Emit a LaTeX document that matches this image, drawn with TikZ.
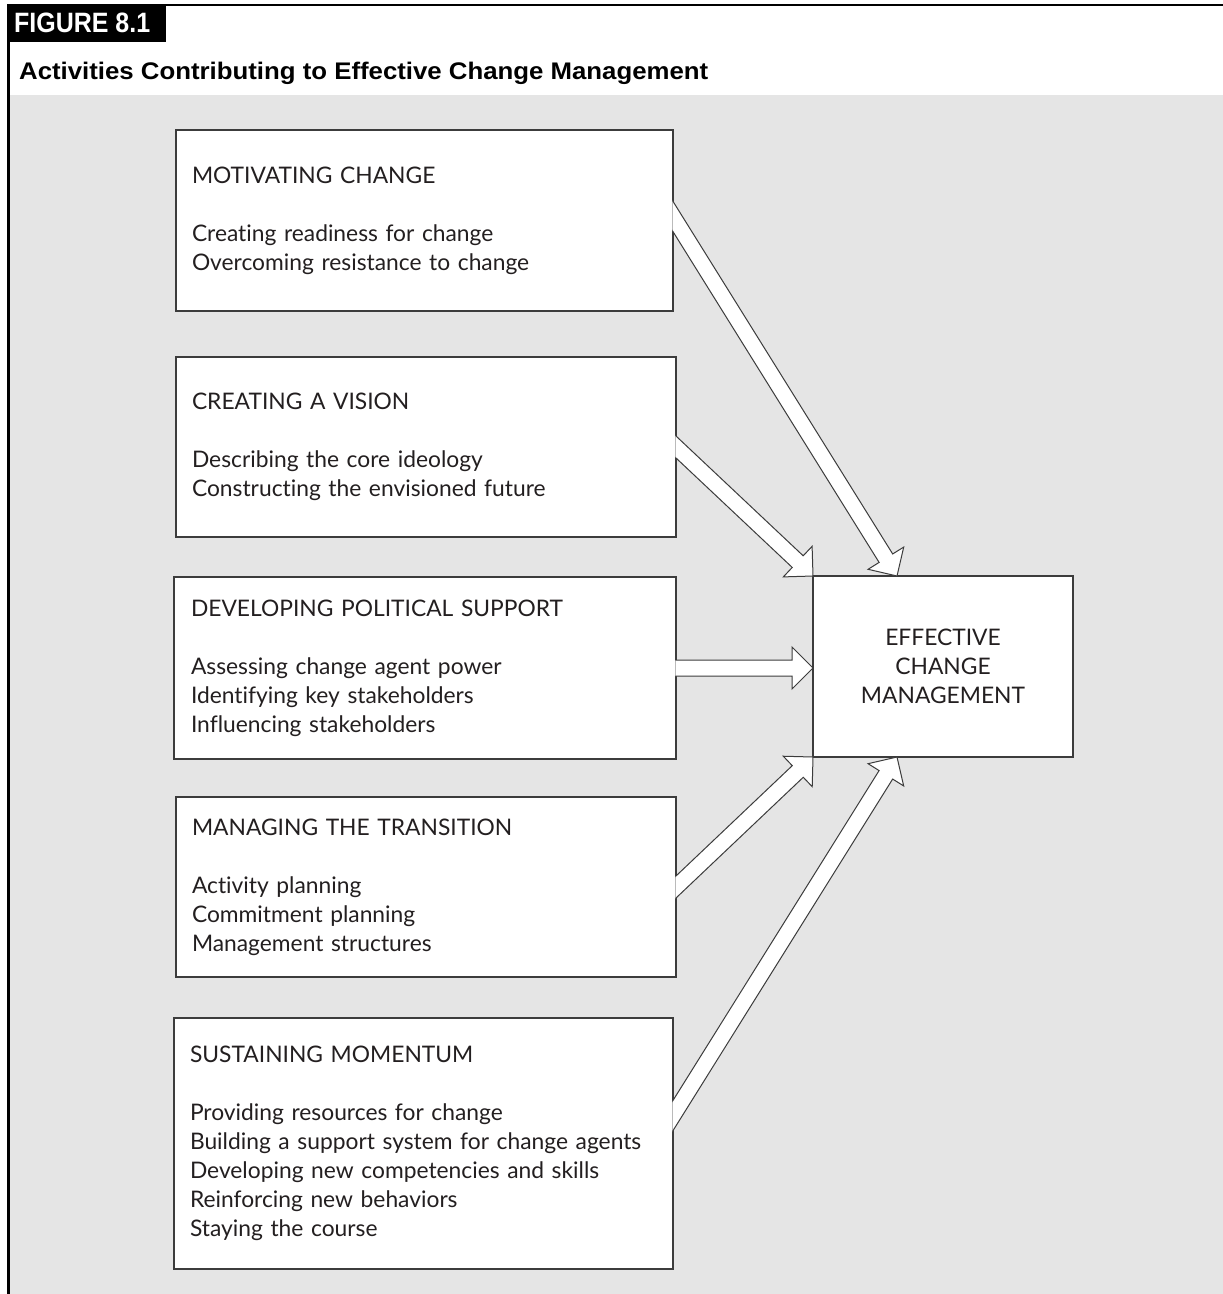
\documentclass[tikz,border=0pt]{standalone}
\usepackage{fontspec}
\usepackage{graphicx}
\setmainfont{Lato}[Ligatures=NoCommon]
\newfontfamily\headfont{Liberation Sans}
\usetikzlibrary{calc}

\definecolor{panel}{HTML}{E5E5E5}
\definecolor{ink}{HTML}{231F20}
\definecolor{edge}{HTML}{3C3C3C}

\tikzset{
  actbox/.style={draw=edge, line width=1.3pt, fill=white, outer sep=0pt,
    inner xsep=16pt, inner ysep=0pt, align=left, text=ink,
    font=\fontsize{22.8}{29}\selectfont},
  arrowline/.style={draw=edge, line width=1pt, line join=miter},
}

% hollow block arrow from a point on a box edge (#1) to its tip (#2)
\newcommand\blockarrow[2]{%
  \begin{scope}
    \clip (#1) ++(-0.6,-2000) rectangle (1223,2000);
    \coordinate (ab) at ($(#1)!-30pt!(#2)$);
    \coordinate (hb) at ($(#2)!21pt!(#1)$);
    \coordinate (s1) at ($(ab)!8pt!90:(#2)$);
    \coordinate (s2) at ($(hb)!8pt!90:(#2)$);
    \coordinate (w1) at ($(hb)!21pt!90:(#2)$);
    \coordinate (w2) at ($(hb)!21pt!-90:(#2)$);
    \coordinate (s3) at ($(hb)!8pt!-90:(#2)$);
    \coordinate (s4) at ($(ab)!8pt!-90:(#2)$);
    \fill[white] (s1) -- (s2) -- (w1) -- (#2) -- (w2) -- (s3) -- (s4) -- cycle;
    \draw[arrowline] (s1) -- (s2) -- (w1) -- (#2) -- (w2) -- (s3) -- (s4);
  \end{scope}}

\begin{document}
\begin{tikzpicture}[x=1pt,y=-1pt]
\useasboundingbox (0,0) rectangle (1223,1294);

% page, grey panel and black frame
\fill[white] (0,0) rectangle (1223,1294);
\fill[panel] (9.5,95) rectangle (1223,1294);
\fill[black] (7,4) rectangle (1223,6.3);
\fill[black] (7,4) rectangle (9.6,1294);
\fill[black] (7,4) rectangle (166,42);

\node[anchor=base west, text=white, inner sep=0pt] (fig) at (14,32)
  {\headfont\bfseries\fontsize{28}{28}\selectfont\resizebox{136pt}{\height}{FIGURE 8.1}};
\node[anchor=base west, text=black, inner sep=0pt] (title) at (19,79)
  {\headfont\bfseries\fontsize{24}{24}\selectfont\resizebox{689pt}{\height}{Activities Contributing to Effective Change Management}};

% activity boxes
\node[actbox, minimum width=497pt, minimum height=181pt, text width=465pt] (m1) at (424.5,220.5)
  {MOTIVATING CHANGE\\[29pt]
   Creating readiness for change\\
   Overcoming resistance to change};
\node[actbox, minimum width=500pt, minimum height=180pt, text width=468pt] (m2) at (426,447)
  {CREATING A VISION\\[29pt]
   Describing the core ideology\\
   Constructing the envisioned future};
\node[actbox, minimum width=502pt, minimum height=182pt, text width=468pt] (m3) at (425,668)
  {DEVELOPING POLITICAL SUPPORT\\[29pt]
   Assessing change agent power\\
   Identifying key stakeholders\\
   Influencing stakeholders};
\node[actbox, minimum width=500pt, minimum height=180pt, text width=468pt] (m4) at (426,887)
  {MANAGING THE TRANSITION\\[29pt]
   Activity planning\\
   Commitment planning\\
   Management structures};
\node[actbox, minimum width=499pt, minimum height=251pt, text width=467pt] (m5) at (423.5,1143.5)
  {SUSTAINING MOMENTUM\\[29pt]
   Providing resources for change\\
   Building a support system for change agents\\
   Developing new competencies and skills\\
   Reinforcing new behaviors\\
   Staying the course};

% outcome box
\node[actbox, align=center, minimum width=260pt, minimum height=181pt, text width=228pt] (eff) at (943,666.5)
  {EFFECTIVE\\ CHANGE\\ MANAGEMENT};

% connector end points
\coordinate (a1) at ($(m1.east)+(0,-4)$);
\coordinate (t1) at ($(eff.north)+(-46,0)$);
\coordinate (a2) at (m2.east);
\coordinate (t2) at (eff.north west);
\coordinate (a3) at (m3.east);
\coordinate (t3) at (eff.west |- a3);
\coordinate (a4) at (m4.east);
\coordinate (t4) at (eff.south west);
\coordinate (a5) at ($(m5.east)+(0,-28)$);
\coordinate (t5) at ($(eff.south)+(-46,0)$);

\blockarrow{a1}{t1}
\blockarrow{a2}{t2}
\blockarrow{a3}{t3}
\blockarrow{a4}{t4}
\blockarrow{a5}{t5}
\end{tikzpicture}
\end{document}
